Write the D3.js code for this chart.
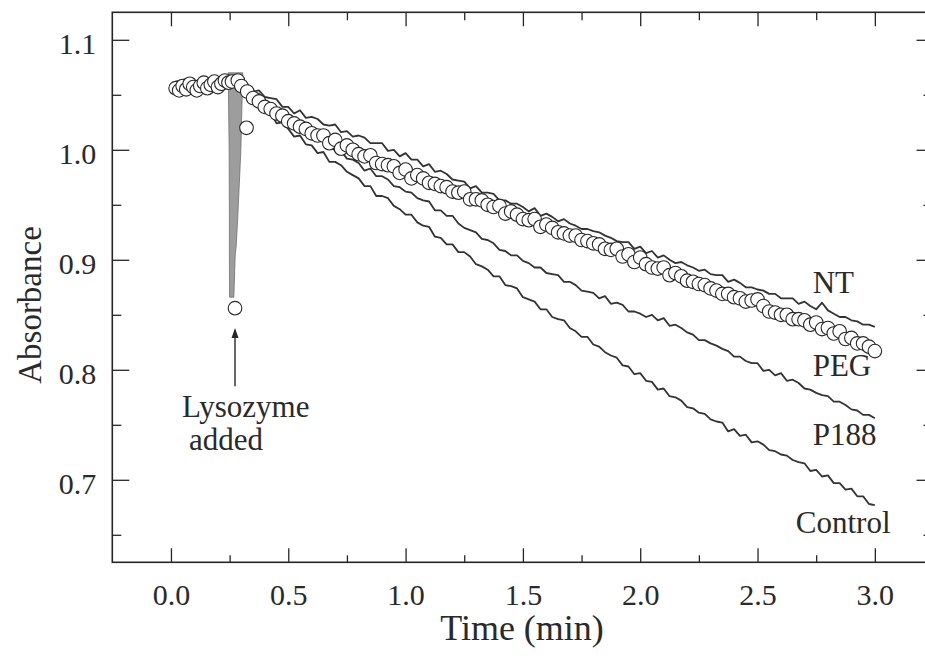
<!DOCTYPE html>
<html><head><meta charset="utf-8">
<script src="https://cdn.jsdelivr.net/npm/d3@7/dist/d3.min.js"></script>
<style>
html,body{margin:0;padding:0;background:#fff;}
svg{display:block;}
text{font-family:"Liberation Serif","Times New Roman",serif;fill:#2a2a2a;}
</style></head>
<body>
<svg id="chart" width="925" height="664"></svg>
<script>
// ---------- data ----------
const xMajorTicks = [0.0, 0.5, 1.0, 1.5, 2.0, 2.5, 3.0];
const xMinorTicks = [0.25, 0.75, 1.25, 1.75, 2.25, 2.75];
const yMajorTicks = [0.7, 0.8, 0.9, 1.0, 1.1];
const yMinorTicks = [0.65, 0.75, 0.85, 0.95, 1.05];

// before lysozyme addition
const preT       = [0.02, 0.06, 0.10, 0.14, 0.18, 0.22, 0.245];
const ntPre      = [1.062, 1.064, 1.061, 1.063, 1.060, 1.062, 1.063];
const p188Pre    = [1.060, 1.062, 1.058, 1.061, 1.059, 1.061, 1.060];
const controlPre = [1.057, 1.059, 1.056, 1.060, 1.058, 1.059, 1.061];

// after addition (min)
const times = [0.300,0.325,0.350,0.375,0.400,0.425,0.450,0.475,0.500,0.525,0.550,0.575,0.600,0.625,0.650,0.675,0.700,0.725,0.750,0.775,0.800,0.825,0.850,0.875,0.900,0.925,0.950,0.975,1.000,1.025,1.050,1.075,1.100,1.125,1.150,1.175,1.200,1.225,1.250,1.275,1.300,1.325,1.350,1.375,1.400,1.425,1.450,1.475,1.500,1.525,1.550,1.575,1.600,1.625,1.650,1.675,1.700,1.725,1.750,1.775,1.800,1.825,1.850,1.875,1.900,1.925,1.950,1.975,2.000,2.025,2.050,2.075,2.100,2.125,2.150,2.175,2.200,2.225,2.250,2.275,2.300,2.325,2.350,2.375,2.400,2.425,2.450,2.475,2.500,2.525,2.550,2.575,2.600,2.625,2.650,2.675,2.700,2.725,2.750,2.775,2.800,2.825,2.850,2.875,2.900,2.925,2.950,2.975,3.000];

const ntA = [1.060,1.060,1.053,1.054,1.048,1.047,1.046,1.039,1.039,1.033,
  1.036,1.029,1.030,1.028,1.023,1.022,1.023,1.016,1.017,1.012,
  1.013,1.011,1.006,1.006,1.006,0.999,1.000,0.994,0.997,0.991,
  0.991,0.985,0.987,0.980,0.981,0.978,0.973,0.972,0.971,0.965,
  0.967,0.961,0.961,0.960,0.954,0.954,0.951,0.951,0.948,0.944,
  0.947,0.940,0.942,0.939,0.935,0.937,0.933,0.931,0.928,0.928,
  0.926,0.925,0.922,0.920,0.917,0.916,0.916,0.910,0.912,0.906,
  0.908,0.902,0.904,0.900,0.897,0.898,0.895,0.893,0.890,0.891,
  0.887,0.886,0.886,0.880,0.882,0.879,0.875,0.875,0.873,0.872,
  0.869,0.869,0.865,0.865,0.865,0.860,0.862,0.858,0.855,0.861,
  0.854,0.851,0.848,0.848,0.845,0.844,0.841,0.841,0.839];

const p188A = [1.060,1.058,1.051,1.051,1.044,1.041,1.038,1.031,1.029,1.025,
  1.023,1.016,1.015,1.008,1.009,1.004,0.999,0.999,0.992,0.991,
  0.988,0.981,0.983,0.976,0.976,0.973,0.967,0.966,0.962,0.961,
  0.956,0.954,0.953,0.945,0.945,0.940,0.940,0.933,0.929,0.927,
  0.925,0.919,0.918,0.915,0.909,0.908,0.904,0.904,0.899,0.897,
  0.893,0.893,0.888,0.887,0.886,0.880,0.880,0.877,0.872,0.871,
  0.870,0.865,0.867,0.860,0.861,0.859,0.853,0.853,0.851,0.848,
  0.850,0.845,0.847,0.840,0.841,0.838,0.834,0.832,0.827,0.827,
  0.824,0.822,0.819,0.817,0.812,0.812,0.808,0.806,0.806,0.799,
  0.800,0.795,0.797,0.790,0.791,0.788,0.783,0.782,0.779,0.777,
  0.776,0.771,0.771,0.768,0.764,0.763,0.759,0.759,0.756];

const controlA = [1.058,1.056,1.048,1.047,1.037,1.034,1.024,1.025,1.019,1.012,
  1.013,1.005,1.004,0.997,0.998,0.989,0.989,0.986,0.980,0.977,
  0.974,0.967,0.967,0.958,0.958,0.956,0.949,0.946,0.941,0.941,
  0.934,0.931,0.930,0.921,0.920,0.914,0.914,0.907,0.907,0.903,
  0.896,0.894,0.891,0.885,0.885,0.877,0.876,0.874,0.866,0.864,
  0.862,0.855,0.855,0.848,0.846,0.845,0.838,0.835,0.830,0.830,
  0.823,0.821,0.816,0.813,0.811,0.804,0.803,0.796,0.797,0.790,
  0.789,0.782,0.783,0.776,0.775,0.772,0.766,0.765,0.761,0.760,
  0.755,0.753,0.752,0.744,0.746,0.740,0.741,0.734,0.735,0.732,
  0.727,0.726,0.723,0.722,0.718,0.716,0.715,0.708,0.709,0.703,
  0.704,0.697,0.697,0.691,0.692,0.685,0.685,0.678,0.677];

// PEG (open circles)
const pegPreT = [0.020,0.035,0.050,0.065,0.080,0.095,0.110,0.125,0.140,0.155,0.170,0.185,0.200,0.215,0.230,0.245,0.260,0.273,0.285];
const pegPreA = [1.056,1.054,1.058,1.055,1.060,1.057,1.054,1.058,1.061,1.056,1.059,1.062,1.057,1.060,1.063,1.061,1.062,0.856,1.063];
const pegOutlierT = [0.322];
const pegOutlierA = [1.020];
const pegA = [1.058,1.053,1.047,1.044,1.039,1.037,1.033,1.031,1.026,1.024,
  1.021,1.019,1.015,1.013,1.013,1.006,1.009,1.001,1.004,1.000,
  0.996,0.994,0.995,0.988,0.987,0.986,0.985,0.979,0.982,0.974,
  0.977,0.974,0.970,0.969,0.967,0.966,0.962,0.961,0.962,0.955,
  0.955,0.954,0.950,0.948,0.949,0.942,0.944,0.941,0.937,0.936,
  0.937,0.930,0.932,0.929,0.925,0.924,0.922,0.922,0.918,0.917,
  0.915,0.914,0.910,0.909,0.910,0.903,0.905,0.898,0.902,0.896,
  0.893,0.892,0.893,0.886,0.888,0.885,0.881,0.880,0.878,0.877,
  0.874,0.872,0.869,0.869,0.866,0.865,0.862,0.863,0.864,0.858,
  0.853,0.852,0.850,0.850,0.846,0.846,0.845,0.841,0.843,0.837,
  0.838,0.833,0.835,0.828,0.829,0.824,0.824,0.821,0.817];

// mixing spike at lysozyme addition (grey band)
const spikeA     = [1.070, 1.000, 0.940, 0.912, 0.905, 0.866];
const spikeLeft  = [0.244, 0.248, 0.249, 0.249, 0.249, 0.250];
const spikeRight = [0.306, 0.298, 0.285, 0.278, 0.274, 0.268];

const seriesLabels = ["NT", "PEG", "P188", "Control"];

// ---------- drawing ----------
const FONT = "'Liberation Serif', 'Times New Roman', serif";
const svg = d3.select("#chart");
const x = d3.scaleLinear().domain([-0.25, 3.25]).range([112.3, 933.5]);
const y = d3.scaleLinear().domain([0.625, 1.125]).range([562.3, 12.3]);
const ink = "#262626";

function pts(ts, as) { return ts.map((t, i) => ({t, a: as[i]})); }
const line = d3.line().x(d => x(d.t)).y(d => y(d.a));

const ntData = pts(preT, ntPre).concat(pts(times, ntA));
const p188Data = pts(preT, p188Pre).concat(pts(times, p188A));
const ctrlData = pts(preT, controlPre).concat(pts(times, controlA));

[ctrlData, p188Data, ntData].forEach(d => {
  svg.append("path").datum(d).attr("d", line)
    .attr("fill", "none").attr("stroke", "#333").attr("stroke-width", 1.8)
    .attr("stroke-linejoin", "round");
});

// spike band
const spikeData = spikeA.map((a, i) => ({a, l: spikeLeft[i], r: spikeRight[i]}));
svg.append("path").datum(spikeData)
  .attr("d", d3.area().y(d => y(d.a)).x0(d => x(d.l)).x1(d => x(d.r)))
  .attr("fill", "#9d9d9d").attr("stroke", "#707070").attr("stroke-width", 0.8);

// PEG circles
const pegData = pts(pegPreT, pegPreA).concat(pts(times.slice(0, 1), pegA.slice(0, 1)))
  .concat(pts(pegOutlierT, pegOutlierA)).concat(pts(times.slice(1), pegA.slice(1)));
svg.append("g").selectAll("circle").data(pegData).join("circle")
  .attr("cx", d => x(d.t)).attr("cy", d => y(d.a)).attr("r", 6.8)
  .attr("fill", "#fff").attr("stroke", ink).attr("stroke-width", 1.1);

// axes (inward ticks, framed)
function styleAxis(g) {
  g.attr("font-family", null).attr("font-size", null);
  g.select(".domain").remove();
  g.selectAll(".tick line").attr("stroke", ink).attr("stroke-width", 1.3);
  g.selectAll("text").style("font-family", FONT).style("font-size", "30px").attr("fill", "#2a2a2a");
}
const H = 562.3, T = 12.3, L = 112.3, R = 933.5;
svg.append("g").attr("transform", `translate(0,${H})`)
  .call(d3.axisBottom(x).tickValues(xMajorTicks).tickSize(-14).tickPadding(21).tickFormat(d3.format(".1f")))
  .call(styleAxis);
svg.append("g").attr("transform", `translate(0,${H})`)
  .call(d3.axisBottom(x).tickValues(xMinorTicks).tickSize(-7).tickFormat(""))
  .call(styleAxis);
svg.append("g").attr("transform", `translate(0,${T})`)
  .call(d3.axisTop(x).tickValues(xMajorTicks).tickSize(-14).tickFormat(""))
  .call(styleAxis);
svg.append("g").attr("transform", `translate(0,${T})`)
  .call(d3.axisTop(x).tickValues(xMinorTicks).tickSize(-8).tickFormat(""))
  .call(styleAxis);
const yl = svg.append("g").attr("transform", `translate(${L},0)`)
  .call(d3.axisLeft(y).tickValues(yMajorTicks).tickSize(-17).tickPadding(16).tickFormat(d3.format(".1f")))
  .call(styleAxis);
yl.selectAll("text").attr("dy", "0.45em");
svg.append("g").attr("transform", `translate(${L},0)`)
  .call(d3.axisLeft(y).tickValues(yMinorTicks).tickSize(-9).tickFormat(""))
  .call(styleAxis);
svg.append("g").attr("transform", `translate(${R},0)`)
  .call(d3.axisRight(y).tickValues(yMajorTicks).tickSize(-17).tickFormat(""))
  .call(styleAxis);
svg.append("g").attr("transform", `translate(${R},0)`)
  .call(d3.axisRight(y).tickValues(yMinorTicks).tickSize(-10).tickFormat(""))
  .call(styleAxis);

svg.append("rect").attr("x", L).attr("y", T).attr("width", R - L).attr("height", H - T)
  .attr("fill", "none").attr("stroke", ink).attr("stroke-width", 1.6);

function addText(px, py, size, str) {
  return svg.append("text").attr("x", px).attr("y", py)
    .style("font-family", FONT).style("font-size", size + "px").attr("fill", "#2a2a2a").text(str);
}
// axis titles
addText(522, 640, 36, "Time (min)").attr("text-anchor", "middle");
addText(0, 0, 33, "Absorbance").attr("text-anchor", "middle")
  .attr("transform", "translate(41,305) rotate(-90)");

// series labels
const labelPos = [[2.735, 0.870], [2.735, 0.794], [2.735, 0.732], [2.663, 0.652]];
seriesLabels.forEach((s, i) => addText(x(labelPos[i][0]), y(labelPos[i][1]), 31, s));

// lysozyme annotation
addText(x(0.047), y(0.757), 31, "Lysozyme");
addText(x(0.077), y(0.727), 31, "added");
const ax = x(0.273);
svg.append("line").attr("x1", ax).attr("x2", ax).attr("y1", y(0.785)).attr("y2", y(0.836))
  .attr("stroke", ink).attr("stroke-width", 1.4);
svg.append("path")
  .attr("d", `M${ax},${y(0.838)} L${ax - 3.5},${y(0.838) + 10} L${ax + 3.5},${y(0.838) + 10} Z`)
  .attr("fill", ink);
</script>
</body></html>
